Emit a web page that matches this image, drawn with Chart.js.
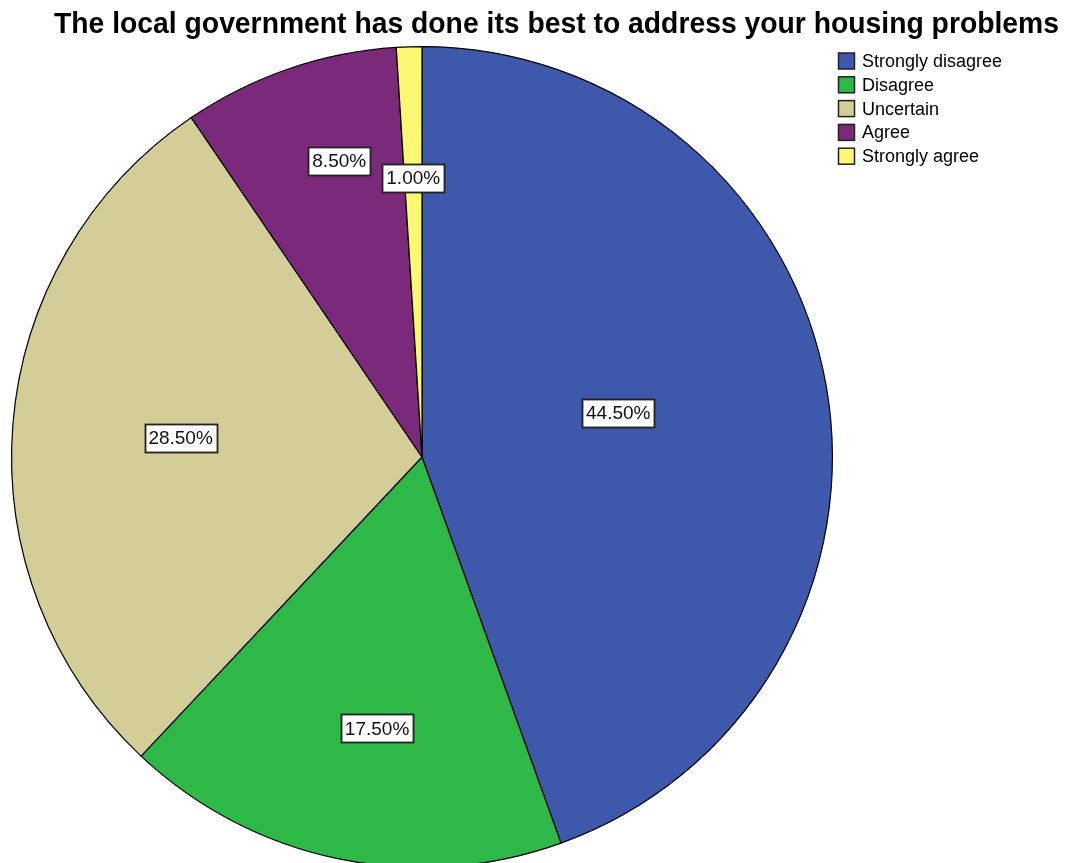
<!DOCTYPE html>
<html>
<head>
<meta charset="utf-8">
<script src="https://cdn.jsdelivr.net/npm/chart.js@4.4.0/dist/chart.umd.min.js"></script>
<style>
  html, body { margin: 0; padding: 0; background: #fff; overflow: hidden; }
  #wrap { width: 1069px; height: 880px; }
</style>
</head>
<body>
<div id="wrap"><canvas id="pie" width="1069" height="880"></canvas></div>
<script>
// Chart data
const chartTitle = "The local government has done its best to address your housing problems";
const categories = ["Strongly disagree", "Disagree", "Uncertain", "Agree", "Strongly agree"];
const percentages = [44.5, 17.5, 28.5, 8.5, 1.0];
const sliceColors = ["#3E58AC", "#2EB848", "#D3CE97", "#7B2A7B", "#FBF873"];

// where each value box sits: fraction of radius + small angle nudge (deg)
const labelDistance = [0.49, 0.67, 0.59, 0.75, 0.68];
const labelNudge = [-2.7, -2.3, 0, 3.3, 0];

// Title + legend drawn by hand so the pie keeps its full size
const titleLegendPlugin = {
  id: "titleLegend",
  afterDraw(chart) {
    const ctx = chart.ctx;
    ctx.save();

    // title, squeezed to the width it has in the original
    ctx.font = "bold 29px 'Liberation Sans', Arial, sans-serif";
    ctx.fillStyle = "#000";
    ctx.textBaseline = "alphabetic";
    ctx.textAlign = "left";
    const w = ctx.measureText(chartTitle).width;
    const sx = 1005 / w;
    ctx.save();
    ctx.translate(54, 33);
    ctx.scale(sx, 1);
    ctx.fillText(chartTitle, 0, 0);
    ctx.restore();

    // legend
    ctx.font = "18px 'Liberation Sans', Arial, sans-serif";
    ctx.textBaseline = "middle";
    categories.forEach((cat, i) => {
      const cy = 61 + i * 23.8;
      ctx.fillStyle = sliceColors[i];
      ctx.fillRect(838.5, cy - 8, 16, 16);
      ctx.strokeStyle = "#222";
      ctx.lineWidth = 1.5;
      ctx.strokeRect(838.5, cy - 8, 16, 16);
      ctx.fillStyle = "#000";
      ctx.fillText(cat, 862, cy + 1);
    });
    ctx.restore();
  }
};

// value boxes inside the slices
const valueBoxPlugin = {
  id: "valueBoxes",
  afterDatasetsDraw(chart) {
    const ctx = chart.ctx;
    const meta = chart.getDatasetMeta(0);
    ctx.save();
    ctx.font = "19px 'Liberation Sans', Arial, sans-serif";
    ctx.textAlign = "center";
    ctx.textBaseline = "middle";
    meta.data.forEach((arc, i) => {
      const p = arc.getProps(["x", "y", "startAngle", "endAngle", "outerRadius"]);
      const mid = (p.startAngle + p.endAngle) / 2 + labelNudge[i] * Math.PI / 180;
      const r = p.outerRadius * labelDistance[i];
      const x = p.x + Math.cos(mid) * r;
      const y = p.y + Math.sin(mid) * r;
      const text = percentages[i].toFixed(2) + "%";
      const tw = ctx.measureText(text).width;
      const bw = Math.round(tw + 8), bh = 28;
      const bx = Math.round(x - bw / 2) + 0.5, by = Math.round(y - bh / 2) + 0.5;
      ctx.fillStyle = "#fff";
      ctx.fillRect(bx, by, bw, bh);
      ctx.strokeStyle = "#222";
      ctx.lineWidth = 1.8;
      ctx.strokeRect(bx, by, bw, bh);
      ctx.fillStyle = "#111";
      ctx.fillText(text, x, y + 1);
    });
    ctx.restore();
  }
};

new Chart(document.getElementById("pie"), {
  type: "pie",
  data: {
    labels: categories,
    datasets: [{
      data: percentages,
      backgroundColor: sliceColors,
      borderColor: "#000",
      borderWidth: 1.2,
      hoverOffset: 0
    }]
  },
  options: {
    responsive: false,
    animation: false,
    events: [],
    layout: { padding: { left: 11, right: 236, top: 46, bottom: 12 } },
    plugins: {
      legend: { display: false },
      title: { display: false },
      tooltip: { enabled: false }
    }
  },
  plugins: [valueBoxPlugin, titleLegendPlugin]
});
</script>
</body>
</html>
